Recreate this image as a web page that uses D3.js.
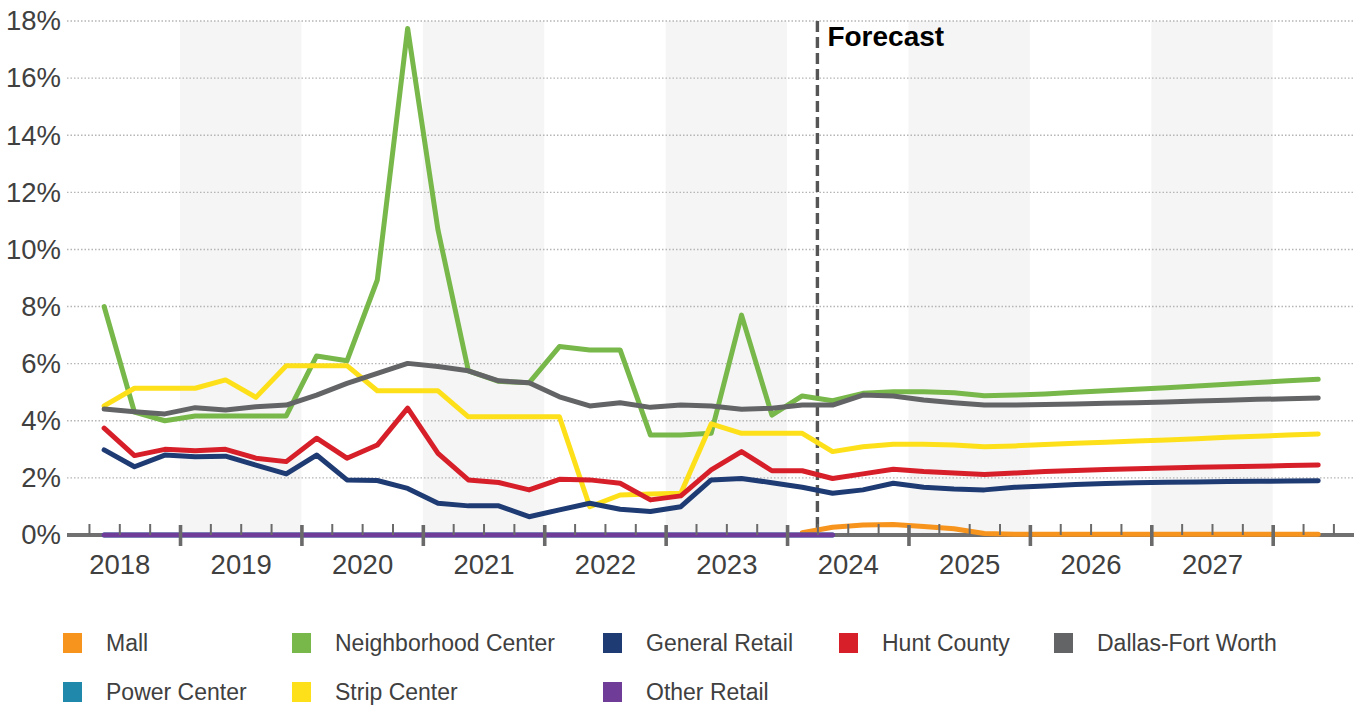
<!DOCTYPE html>
<html><head><meta charset="utf-8">
<script src="https://cdn.jsdelivr.net/npm/d3@7"></script>
<style>
body{margin:0;background:#fff;}
svg text{font-family:"Liberation Sans",Arial,Helvetica,sans-serif;}
</style>
</head><body>
<svg id="chart" width="1364" height="707"></svg>
<script>
// ---------- data ----------
const quarters = [
 "2018Q2","2018Q3","2018Q4",
 "2019Q1","2019Q2","2019Q3","2019Q4",
 "2020Q1","2020Q2","2020Q3","2020Q4",
 "2021Q1","2021Q2","2021Q3","2021Q4",
 "2022Q1","2022Q2","2022Q3","2022Q4",
 "2023Q1","2023Q2","2023Q3","2023Q4",
 "2024Q1","2024Q2","2024Q3","2024Q4",
 "2025Q1","2025Q2","2025Q3","2025Q4",
 "2026Q1","2026Q2","2026Q3","2026Q4",
 "2027Q1","2027Q2","2027Q3","2027Q4",
 "2028Q1","2028Q2"];
const yearLabels = ["2018","2019","2020","2021","2022","2023","2024","2025","2026","2027"];
const yTickValues = [0,2,4,6,8,10,12,14,16,18];
const forecastStart = "2024Q2";
const forecastLabel = "Forecast";

const mall = [null,null,null,null,null,null,null,null,null,null,null,null,null,null,null,null,null,null,null,null,null,null,null,
 0.08,0.27,0.35,0.37,0.30,0.22,0.05,0.03,0.03,0.03,0.03,0.03,0.03,0.03,0.03,0.03,0.03,0.03];
const powerCenter = [0,0,0,0,0,0,0,0,0,0,0,0,0,0,0,0,0,0,0,0,0,0,0,0,0,
 null,null,null,null,null,null,null,null,null,null,null,null,null,null,null,null];
const neighborhood = [8.0,4.3,4.0,4.17,4.17,4.17,4.17,6.27,6.1,8.93,17.74,10.68,5.75,5.38,5.33,6.6,6.48,6.48,3.5,3.5,3.56,7.7,4.2,
 4.87,4.7,4.96,5.02,5.02,4.98,4.88,4.9,4.94,5.0,5.05,5.1,5.16,5.22,5.28,5.34,5.4,5.45];
const strip = [4.52,5.14,5.14,5.14,5.43,4.82,5.93,5.93,5.93,5.05,5.05,5.05,4.14,4.14,4.14,4.14,0.99,1.4,1.44,1.46,3.89,3.56,3.56,
 3.56,2.92,3.09,3.18,3.18,3.15,3.09,3.12,3.17,3.21,3.25,3.29,3.33,3.37,3.42,3.46,3.5,3.54];
const generalRetail = [2.98,2.39,2.8,2.74,2.76,2.45,2.14,2.8,1.93,1.91,1.63,1.11,1.02,1.02,0.64,0.88,1.11,0.9,0.82,0.99,1.93,1.98,1.83,
 1.67,1.46,1.58,1.81,1.67,1.61,1.58,1.67,1.72,1.77,1.8,1.83,1.85,1.86,1.87,1.88,1.89,1.9];
const otherRetail = [0,0,0,0,0,0,0,0,0,0,0,0,0,0,0,0,0,0,0,0,0,0,0,0,0,
 null,null,null,null,null,null,null,null,null,null,null,null,null,null,null,null];
const huntCounty = [3.74,2.78,3.0,2.95,3.0,2.69,2.57,3.39,2.69,3.15,4.44,2.86,1.93,1.84,1.58,1.95,1.93,1.81,1.23,1.37,2.28,2.92,2.25,
 2.25,1.98,2.14,2.3,2.22,2.17,2.12,2.17,2.22,2.26,2.29,2.32,2.35,2.37,2.39,2.41,2.43,2.45];
const dfw = [4.41,4.32,4.24,4.46,4.38,4.49,4.55,4.9,5.31,5.66,6.01,5.9,5.75,5.4,5.33,4.84,4.52,4.63,4.47,4.55,4.52,4.4,4.44,
 4.55,4.55,4.9,4.87,4.73,4.63,4.55,4.55,4.57,4.59,4.61,4.63,4.66,4.69,4.72,4.75,4.77,4.8];

const seriesNames  = ["Mall","Power Center","Neighborhood Center","Strip Center","General Retail","Other Retail","Hunt County","Dallas-Fort Worth"];
const seriesValues = [mall, powerCenter, neighborhood, strip, generalRetail, otherRetail, huntCounty, dfw];
const seriesColors = ["#f7941d","#2089ab","#78b84a","#fde01a","#1f3b73","#6f3c97","#d71f2a","#636466"];
const legendRows = [
  ["Mall","Neighborhood Center","General Retail","Hunt County","Dallas-Fort Worth"],
  ["Power Center","Strip Center","Other Retail"]
];

// ---------- layout ----------
const svg = d3.select("#chart");
const plotLeft = 67, plotRight = 1354, plotTop = 21, plotBottom = 535;
const x = d3.scaleLinear().domain([2018, 2028]).range([58.6, 1272.7]);
const y = d3.scaleLinear().domain([0, 18]).range([plotBottom, plotTop]);
const qTime = q => +q.slice(0,4) + (+q.slice(5) - 1) / 4 + 0.125;
const qStart = q => +q.slice(0,4) + (+q.slice(5) - 1) / 4;
const times = quarters.map(qTime);
const fontColor = "#404040";

// shaded alternating years
const shadedYears = yearLabels.map(Number).filter(yv => yv % 2 === 1);
svg.append("g").selectAll("rect").data(shadedYears).join("rect")
  .attr("x", d => x(d)).attr("width", d => x(d + 1) - x(d))
  .attr("y", y(18)).attr("height", y(0) - y(18))
  .attr("fill", "#f5f5f5");

// gridlines
svg.append("g").selectAll("line").data(yTickValues.filter(v => v > 0)).join("line")
  .attr("x1", plotLeft).attr("x2", plotRight)
  .attr("y1", d => y(d)).attr("y2", d => y(d))
  .attr("stroke", "#b5b5b5").attr("stroke-width", 1.4).attr("stroke-dasharray", "1.5,2");

// y axis labels
const yAxis = svg.append("g").attr("transform", "translate(61,0)")
  .call(d3.axisLeft(y).tickValues(yTickValues).tickSize(0).tickPadding(0).tickFormat(d => d + "%"));
yAxis.select(".domain").remove();
yAxis.selectAll("text").attr("font-size", 27.5).attr("fill", fontColor)
  .style("font-family", "'Liberation Sans',Arial,sans-serif");

// x axis baseline
svg.append("line").attr("x1", plotLeft).attr("x2", plotRight)
  .attr("y1", y(0)).attr("y2", y(0)).attr("stroke", "#707070").attr("stroke-width", 4);

// forecast line
const fx = x(qStart(forecastStart));
svg.append("line").attr("x1", fx).attr("x2", fx).attr("y1", plotTop).attr("y2", plotBottom)
  .attr("stroke", "#555").attr("stroke-width", 3.4).attr("stroke-dasharray", "11,5");
svg.append("text").attr("x", fx + 10).attr("y", 46).text(forecastLabel)
  .attr("font-size", 28).attr("font-weight", "bold").attr("fill", "#000");

// series lines
const line = d3.line().defined(d => d[1] != null).x(d => x(d[0])).y(d => y(d[1]));
svg.append("g").selectAll("path").data(seriesValues).join("path")
  .attr("d", vals => line(vals.map((v, i) => [times[i], v])))
  .attr("fill", "none")
  .attr("stroke", (d, i) => seriesColors[i])
  .attr("stroke-width", 5)
  .attr("stroke-linejoin", "round").attr("stroke-linecap", "round");

// ticks
const years = d3.range(2018, 2029);
const majorTicks = years.filter(v => x(v) >= plotLeft && x(v) <= plotRight);
const minorTicks = years.flatMap(v => [v + 0.25, v + 0.5, v + 0.75]).filter(v => x(v) >= plotLeft && x(v) <= plotRight);
const tMinor = svg.append("g").attr("transform", `translate(0,${y(0)})`)
  .call(d3.axisTop(x).tickValues(minorTicks).tickSize(11).tickFormat(""));
tMinor.select(".domain").remove();
tMinor.selectAll("line").attr("stroke", "#6a6a6a").attr("stroke-width", 2);
const tMajor = svg.append("g").attr("transform", `translate(0,${y(0) - 10})`)
  .call(d3.axisBottom(x).tickValues(majorTicks).tickSize(21).tickFormat(""));
tMajor.select(".domain").remove();
tMajor.selectAll("line").attr("stroke", "#6a6a6a").attr("stroke-width", 3.6);

// year labels
const xLab = svg.append("g").attr("transform", `translate(0,${y(0)})`)
  .call(d3.axisBottom(x).tickValues(yearLabels.map(v => +v + 0.5)).tickSize(0).tickPadding(19)
    .tickFormat((d, i) => yearLabels[i]));
xLab.select(".domain").remove();
xLab.selectAll("text").attr("font-size", 27.5).attr("fill", fontColor)
  .style("font-family", "'Liberation Sans',Arial,sans-serif");

// legend
const colX = [63, 292, 603, 839, 1054];
const rowY = [643, 692];
legendRows.forEach((row, r) => {
  row.forEach((name, c) => {
    const idx = seriesNames.indexOf(name);
    const g = svg.append("g").attr("transform", `translate(${colX[c]},${rowY[r]})`);
    g.append("rect").attr("x", 0).attr("y", -10).attr("width", 19).attr("height", 20)
      .attr("fill", seriesColors[idx]);
    g.append("text").attr("x", 43).attr("y", 8).text(name)
      .attr("font-size", 23).attr("fill", fontColor);
  });
});
</script>
</body></html>
